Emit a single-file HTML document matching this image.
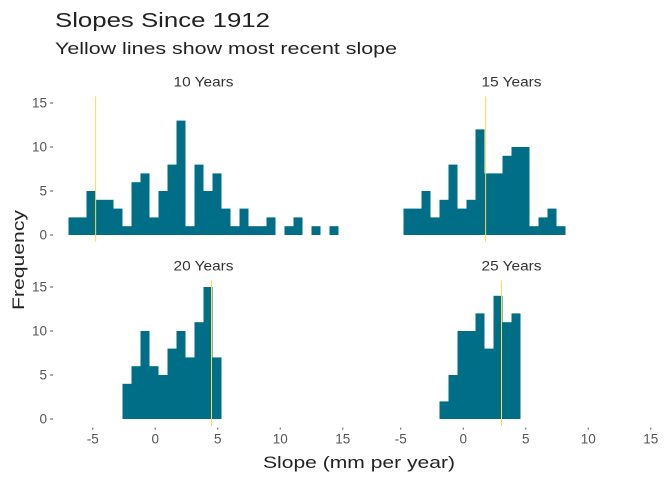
<!DOCTYPE html>
<html><head><meta charset="utf-8"><style>
body{margin:0;background:#fff;}
svg{display:block;font-family:"Liberation Sans",sans-serif;}
</style></head><body>
<svg id="chart" width="672" height="480" viewBox="0 0 672 480">
<text x="55" y="27" font-size="20" fill="#222" textLength="215" lengthAdjust="spacingAndGlyphs">Slopes Since 1912</text>
<text x="55" y="54" font-size="17" fill="#222" textLength="342" lengthAdjust="spacingAndGlyphs">Yellow lines show most recent slope</text>
<text transform="translate(24,260) rotate(-90)" text-anchor="middle" font-size="17" fill="#222" textLength="100" lengthAdjust="spacingAndGlyphs">Frequency</text>
<text x="359" y="468" text-anchor="middle" font-size="17" fill="#222" textLength="192" lengthAdjust="spacingAndGlyphs">Slope (mm per year)</text>
<g id="plots"></g>
</svg>
<script>
const binStart = -6.94;
const binWidth = 0.72;
const facetNames = ["10 Years", "15 Years", "20 Years", "25 Years"];
const facetStartBins = [0, 3, 6, 7];
const counts10 = [2,2,5,4,4,3,1,6,7,2,5,8,13,1,8,5,7,3,1,3,1,1,2,0,1,2,0,1,0,1];
const counts15 = [3,3,5,2,4,8,3,4,12,7,7,9,10,10,1,2,3,1];
const counts20 = [4,6,10,6,5,8,10,7,11,15,7];
const counts25 = [2,5,10,10,12,8,14,11,12];
const recentSlopes = [-4.77, 1.79, 4.5, 3.06];
const xTicks = [-5, 0, 5, 10, 15];
const yTicks = [0, 5, 10, 15];
const allCounts = [counts10, counts15, counts20, counts25];

const NS = "http://www.w3.org/2000/svg";
const g = document.getElementById("plots");
const xMin = -8.02, xMax = 15.74, yMin = -0.75, yMax = 15.75;
const panels = [
  {x0:55, x1:352, y0:96.4, y1:241.6},
  {x0:363, x1:660, y0:96.4, y1:241.6},
  {x0:55, x1:352, y0:280.4, y1:425.6},
  {x0:363, x1:660, y0:280.4, y1:425.6}
];
function mk(tag, attrs, parent){
  const e = document.createElementNS(NS, tag);
  for (const k in attrs) e.setAttribute(k, attrs[k]);
  (parent||g).appendChild(e);
  return e;
}
panels.forEach((p, i) => {
  const sx = v => p.x0 + (v - xMin) / (xMax - xMin) * (p.x1 - p.x0);
  const sy = v => p.y1 - (v - yMin) / (yMax - yMin) * (p.y1 - p.y0);
  const pg = mk("g", {});
  
  
  const st = mk("text", {x:(p.x0+p.x1)/2, y:p.y0-10, "text-anchor":"middle", "font-size":"13.5", fill:"#333", textLength:"60", lengthAdjust:"spacingAndGlyphs"}, pg);
  st.textContent = facetNames[i];
  
  
  allCounts[i].forEach((c, j) => {
    if (c <= 0) return;
    const a = binStart + (facetStartBins[i] + j) * binWidth;
    const r = mk("rect", {x:sx(a), y:sy(c), width:sx(a+binWidth)-sx(a), height:sy(0)-sy(c), fill:"#016e87"}, pg);
    
    
  });
  const ln = mk("line", {x1:sx(recentSlopes[i]), x2:sx(recentSlopes[i]), y1:p.y0, y2:p.y1, stroke:"#ffd84d", "stroke-width":"1"}, pg);
  
  
  if (i % 2 === 0) {
    yTicks.forEach(t => {
      const tk = mk("line", {x1:p.x0-5, x2:p.x0-2, y1:sy(t), y2:sy(t), stroke:"#555"}, pg);
      
      
      const tl = mk("text", {x:p.x0-8, y:sy(t)+4.5, "text-anchor":"end", "font-size":"13.5", fill:"#555"}, pg);
      tl.textContent = t;
      
      
    });
  }
  if (i >= 2) {
    xTicks.forEach(t => {
      const tk = mk("line", {x1:sx(t), x2:sx(t), y1:p.y1+2, y2:p.y1+4, stroke:"#555"}, pg);
      
      
      const tl = mk("text", {x:sx(t), y:p.y1+18, "text-anchor":"middle", "font-size":"13.5", fill:"#555"}, pg);
      tl.textContent = t;
      
      
    });
  }
});
</script>
</body></html>
